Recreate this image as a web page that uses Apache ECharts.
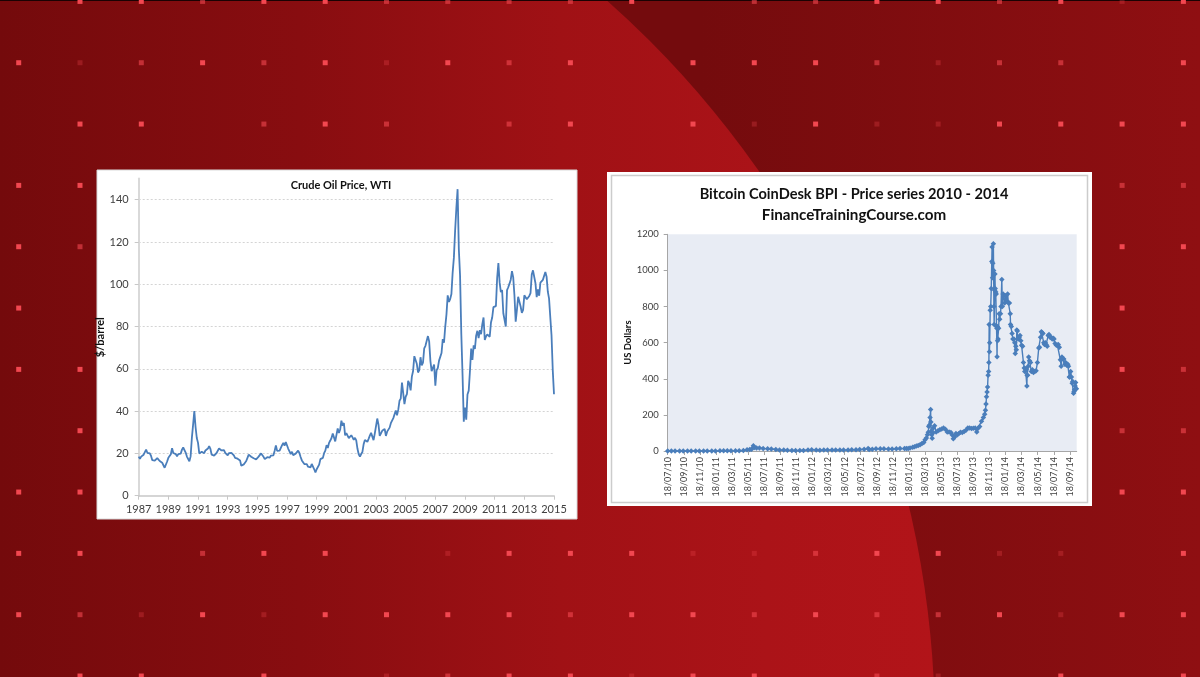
<!DOCTYPE html>
<html>
<head>
<meta charset="utf-8">
<script src="https://cdn.jsdelivr.net/npm/echarts@6.0.0/dist/echarts.min.js"></script>
<style>
  html, body { margin: 0; padding: 0; background: #7a0b0d; }
  #main { width: 1200px; height: 677px; }
</style>
</head>
<body>
<div id="main"></div>
<script>
// WTI crude, $/barrel, one reading per month from Jan 1987 (last = Jan 2015)
const oilStartYear = 1987;
const oilPrices = [
  18.5, 17.5, 18.5, 18.8, 19.4, 20.0, 21.8, 20.3, 19.6, 20.0, 18.8, 16.8, // 1987
  17.1, 16.6, 16.2, 17.8, 17.5, 16.4, 15.6, 15.6, 14.4, 13.2, 14.0, 16.2, // 1988
  17.9, 18.0, 19.6, 22.5, 20.2, 20.1, 19.7, 18.6, 19.7, 20.2, 19.9, 21.8, // 1989
  22.8, 22.3, 20.4, 18.5, 17.8, 16.3, 18.6, 27.2, 33.5, 40.0, 32.5, 27.3, // 1990
  25.0, 20.0, 19.8, 20.8, 21.2, 20.1, 21.4, 21.7, 22.3, 23.5, 22.2, 19.4, // 1991
  18.8, 19.0, 18.9, 20.2, 20.9, 22.4, 21.8, 21.4, 21.9, 21.6, 20.3, 19.4, // 1992
  19.1, 20.1, 20.3, 20.3, 19.9, 19.1, 17.9, 18.0, 17.5, 18.1, 16.7, 14.2, // 1993
  15.0, 14.8, 14.7, 16.4, 17.9, 19.4, 19.8, 18.4, 17.5, 17.7, 18.1, 17.2, // 1994
  18.0, 18.5, 18.6, 20.0, 19.7, 18.4, 17.3, 18.0, 18.2, 17.4, 18.0, 19.0, // 1995
  18.9, 19.1, 21.3, 23.8, 21.2, 20.4, 21.3, 21.9, 23.9, 25.0, 23.7, 25.4, // 1996
  25.8, 22.2, 21.0, 19.7, 20.8, 19.2, 19.6, 19.9, 19.8, 21.3, 20.2, 18.3, // 1997
  16.7, 16.1, 15.0, 15.4, 14.9, 13.7, 14.1, 13.4, 15.0, 14.4, 12.5, 11.0, // 1998
  12.5, 12.0, 14.7, 17.3, 17.8, 17.9, 20.1, 21.3, 23.9, 22.6, 25.0, 26.1, // 1999
  27.3, 29.4, 29.9, 25.7, 28.8, 31.8, 29.7, 31.3, 35.5, 33.1, 34.4, 28.5, // 2000
  29.6, 29.6, 27.2, 27.4, 28.6, 27.6, 26.4, 27.4, 26.2, 22.2, 19.6, 18.5, // 2001
  19.7, 20.7, 24.4, 26.3, 27.0, 25.5, 26.9, 28.4, 29.7, 28.9, 26.3, 29.4, // 2002
  32.9, 36.5, 33.6, 28.3, 28.1, 30.7, 30.8, 31.6, 28.3, 30.3, 31.1, 32.2, // 2003
  34.3, 34.7, 36.7, 36.7, 40.3, 38.0, 40.7, 44.9, 45.9, 53.5, 48.5, 43.3, // 2004
  46.8, 48.0, 54.3, 53.0, 49.8, 56.3, 59.0, 66.0, 65.6, 62.4, 58.3, 59.4, // 2005
  65.5, 61.6, 62.9, 69.7, 70.9, 71.0, 75.5, 73.0, 63.8, 58.9, 59.1, 62.0, // 2006
  52.0, 59.3, 60.4, 63.9, 63.5, 67.5, 74.1, 72.4, 79.9, 85.8, 94.8, 91.7, // 2007
  93.0, 95.4, 105.5, 112.6, 125.4, 136.0, 145.0, 116.7, 104.1, 76.6, 57.3, 35.0, // 2008
  41.7, 36.0, 47.9, 49.7, 59.0, 69.6, 64.2, 71.1, 69.4, 75.7, 78.0, 74.5, // 2009
  78.3, 76.4, 81.2, 84.3, 73.7, 75.3, 76.3, 76.6, 75.2, 81.9, 84.3, 89.2, // 2010
  89.6, 89.7, 102.9, 110.0, 100.9, 96.3, 97.3, 86.3, 85.5, 80.0, 97.2, 98.6, // 2011
  100.3, 102.2, 106.2, 103.3, 94.7, 82.3, 87.9, 94.1, 94.5, 89.5, 86.5, 87.9, // 2012
  94.8, 95.3, 92.9, 92.0, 94.5, 95.8, 104.6, 106.6, 106.3, 100.5, 93.9, 97.6, // 2013
  94.6, 100.8, 100.8, 102.1, 102.2, 105.8, 103.6, 96.5, 93.2, 84.4, 75.8, 59.3, // 2014
  48.0 // Jan 2015
];

// Bitcoin CoinDesk BPI, US dollars (dates and prices line up row by row)
const btcDates = [
  '2010-07-18','2010-08-01','2010-08-15','2010-09-01','2010-09-15','2010-10-01','2010-10-15','2010-11-01','2010-11-15','2010-12-01','2010-12-15',
  '2011-01-01','2011-01-15','2011-02-01','2011-02-15','2011-03-01','2011-03-15','2011-04-01','2011-04-15','2011-05-01','2011-05-15','2011-05-25',
  '2011-06-01','2011-06-08','2011-06-12','2011-06-20','2011-07-01','2011-07-15','2011-08-01','2011-08-15','2011-09-01','2011-09-15','2011-10-01',
  '2011-10-15','2011-11-01','2011-11-15','2011-12-01','2011-12-15',
  '2012-01-01','2012-01-15','2012-02-01','2012-02-15','2012-03-01','2012-03-15','2012-04-01','2012-04-15','2012-05-01','2012-05-15','2012-06-01',
  '2012-06-15','2012-07-01','2012-07-15','2012-08-01','2012-08-16','2012-08-20','2012-09-01','2012-09-15','2012-10-01','2012-10-15','2012-11-01',
  '2012-11-15','2012-12-01','2012-12-15',
  '2013-01-01','2013-01-08','2013-01-15','2013-01-22','2013-02-01','2013-02-08','2013-02-15','2013-02-22',
  '2013-03-01','2013-03-08','2013-03-15','2013-03-20','2013-03-25','2013-03-29',
  '2013-04-01','2013-04-03','2013-04-05','2013-04-08','2013-04-10','2013-04-11','2013-04-12','2013-04-14','2013-04-16','2013-04-18','2013-04-20','2013-04-25',
  '2013-05-01','2013-05-08','2013-05-15','2013-05-22','2013-05-29','2013-06-05','2013-06-12','2013-06-19','2013-06-26',
  '2013-07-01','2013-07-05','2013-07-10','2013-07-15','2013-07-20','2013-07-25','2013-08-01','2013-08-08','2013-08-15','2013-08-22','2013-08-29',
  '2013-09-05','2013-09-12','2013-09-19','2013-09-26','2013-10-02','2013-10-06','2013-10-13','2013-10-20','2013-10-27',
  '2013-11-01','2013-11-04','2013-11-06','2013-11-08','2013-11-10','2013-11-12','2013-11-14','2013-11-16','2013-11-17','2013-11-18','2013-11-19',
  '2013-11-20','2013-11-22','2013-11-24','2013-11-26','2013-11-28','2013-11-29',
  '2013-12-01','2013-12-02','2013-12-04','2013-12-05','2013-12-06','2013-12-07','2013-12-09','2013-12-10','2013-12-11','2013-12-13','2013-12-15',
  '2013-12-16','2013-12-17','2013-12-18','2013-12-19','2013-12-20','2013-12-22','2013-12-24','2013-12-26','2013-12-28','2013-12-31',
  '2014-01-02','2014-01-05','2014-01-07','2014-01-10','2014-01-13','2014-01-16','2014-01-20','2014-01-23','2014-01-27','2014-01-30',
  '2014-02-03','2014-02-06','2014-02-07','2014-02-10','2014-02-13','2014-02-16','2014-02-20','2014-02-23','2014-02-25','2014-02-27',
  '2014-03-01','2014-03-03','2014-03-05','2014-03-08','2014-03-12','2014-03-15','2014-03-18','2014-03-21','2014-03-25','2014-03-28','2014-03-31',
  '2014-04-02','2014-04-05','2014-04-08','2014-04-10','2014-04-11','2014-04-13','2014-04-15','2014-04-17','2014-04-20','2014-04-24','2014-04-27',
  '2014-05-01','2014-05-05','2014-05-10','2014-05-15','2014-05-20','2014-05-25','2014-05-28',
  '2014-06-01','2014-06-04','2014-06-07','2014-06-10','2014-06-13','2014-06-16','2014-06-19','2014-06-22','2014-06-26','2014-06-30',
  '2014-07-03','2014-07-07','2014-07-11','2014-07-15','2014-07-19','2014-07-22','2014-07-26','2014-07-31',
  '2014-08-04','2014-08-07','2014-08-11','2014-08-15','2014-08-18','2014-08-21','2014-08-25','2014-08-28',
  '2014-09-01','2014-09-04','2014-09-08','2014-09-12','2014-09-15','2014-09-18','2014-09-20','2014-09-23','2014-09-26','2014-09-29',
  '2014-10-01','2014-10-04','2014-10-06','2014-10-08','2014-10-10','2014-10-12','2014-10-15'
];
const btcPrices = [
  0.09, 0.07, 0.07, 0.06, 0.06, 0.06, 0.10, 0.20, 0.28, 0.21, 0.24,
  0.30, 0.40, 0.72, 1.0, 0.90, 0.86, 0.78, 1.1, 3.0, 7.0, 8.5,
  9.5, 29.6, 19, 17, 16, 14, 13, 11, 8, 5.3, 5.0,
  3.6, 3.2, 2.3, 3.0, 3.2,
  5.3, 6.8, 6.1, 4.4, 4.9, 5.3, 4.9, 4.9, 5.0, 5.0, 5.3,
  6.4, 6.7, 7.7, 9.4, 13.5, 8.5, 10.2, 11.8, 12.4, 11.8, 10.6,
  11.1, 12.6, 13.4,
  13.3, 13.8, 14.4, 16.9, 20.4, 23.5, 27.0, 29.9,
  34.5, 42, 47, 62, 72, 90,
  104, 135, 142, 186, 230, 160, 110, 90, 70, 100, 127, 140,
  105, 112, 117, 122, 128, 120, 105, 105, 102,
  88, 68, 78, 97, 90, 95, 104, 102, 108, 115, 128,
  128, 125, 126, 127, 105, 125, 135, 165, 185,
  203, 225, 260, 300, 327, 355, 420, 440, 490, 700, 550,
  600, 780, 800, 900, 1050, 1130,
  960, 1040, 1147, 1000, 800, 700, 890, 980, 900, 880, 870,
  690, 680, 522, 690, 610, 620, 680, 760, 730, 760,
  800, 950, 800, 870, 860, 820, 860, 830, 870, 820,
  820, 760, 700, 690, 650, 620, 620, 600, 540, 580,
  560, 670, 665, 620, 630, 640, 610, 585, 580, 490, 460,
  440, 455, 450, 360, 420, 420, 470, 520, 500, 490, 440,
  450, 435, 440, 445, 490, 570, 575,
  630, 660, 655, 650, 600, 590, 600, 590, 580, 640,
  645, 630, 630, 620, 625, 620, 595, 585,
  585, 590, 575, 505, 470, 520, 510, 510,
  480, 490, 475, 480, 470, 410, 410, 440, 410, 375,
  385, 320, 330, 340, 360, 380, 345
];
// x-axis tick labels, every two months from the first date
const btcTickLabels = [
  '18/07/10','18/09/10','18/11/10','18/01/11','18/03/11','18/05/11','18/07/11','18/09/11','18/11/11',
  '18/01/12','18/03/12','18/05/12','18/07/12','18/09/12','18/11/12','18/01/13','18/03/13','18/05/13',
  '18/07/13','18/09/13','18/11/13','18/01/14','18/03/14','18/05/14','18/07/14','18/09/14'
];

// background dot pattern, one string per row, 0 = none .. 3 = bright
const dotRows = [
  '03323322223022332313',
  '31232313230333212203',
  '03302320230313113333',
  '33000000000000000022',
  '32000000000000000033',
  '30000000000000000030',
  '33000000000000000032',
  '03000000000000000022',
  '33000000000000000033',
  '33023301333112331103',
  '32131333323323223133',
  '03303012331330210303'
];

const DAY = 86400000;
const btcStart = Date.UTC(2010, 6, 18);
function dayIndex(s) {
  const p = s.split('-');
  return Math.round((Date.UTC(+p[0], +p[1] - 1, +p[2]) - btcStart) / DAY);
}
const BTC_STEP = 61; // about two months in days

const oilData = oilPrices.map((v, i) => [i / 12, v]);
const btcData = btcDates.map((d, i) => [dayIndex(d), btcPrices[i]]);

const FONT = 'Lato, "Open Sans", sans-serif';
const LABEL = '#404040';
const BLUE = '#4a7ebb';

// decoration: background, dots, white boxes
const graphics = [
  { type: 'rect', z: -30, shape: { x: 0, y: 0, width: 1200, height: 677 },
    style: { fill: new echarts.graphic.LinearGradient(700, 0, 1200, 0,
      [{ offset: 0, color: '#740b0d' }, { offset: 1, color: '#8f0f12' }], true) } },
  { type: 'circle', z: -29, shape: { cx: -40, cy: 730, r: 975 },
    style: { fill: new echarts.graphic.LinearGradient(0, 0, 935, 0,
      [{ offset: 0, color: '#740a0c' }, { offset: 0.32, color: '#880d10' },
       { offset: 0.6, color: '#a01115' }, { offset: 0.82, color: '#ab1318' },
       { offset: 1, color: '#b21419' }], true) } },
  { type: 'rect', z: -28, shape: { x: 0, y: 0, width: 1200, height: 1 }, style: { fill: '#1a0203' } }
];
const dotAlpha = [0, 0.28, 0.6, 1];
dotRows.forEach((row, r) => {
  row.split('').forEach((c, k) => {
    if (c === '0') return;
    graphics.push({
      type: 'rect', z: -27,
      shape: { x: 18.7 + 61.3 * k - 2.5, y: 1.4 + 61.33 * r - 2.5, width: 5, height: 5 },
      style: { fill: '#f24750', opacity: dotAlpha[+c] }
    });
  });
});
graphics.push(
  { type: 'rect', z: -20, shape: { x: 97, y: 170, width: 480, height: 349 },
    style: { fill: '#ffffff', stroke: '#d9d9d9', lineWidth: 1 } },
  { type: 'rect', z: -20, shape: { x: 607, y: 172, width: 485, height: 334 },
    style: { fill: '#ffffff' } },
  { type: 'rect', z: -19, shape: { x: 611.5, y: 175.5, width: 476, height: 327 },
    style: { fill: 'none', stroke: '#cccccc', lineWidth: 1.5 } }
);

const option = {
  animation: false,
  textStyle: { fontFamily: FONT },
  graphic: { elements: graphics },
  title: [
    { text: 'Crude Oil Price, WTI', left: 336, top: 175, textAlign: 'center',
      textStyle: { fontSize: 11, fontWeight: 'bold', color: '#111', fontFamily: FONT } },
    { text: 'Bitcoin CoinDesk BPI - Price series 2010 - 2014', left: 849, top: 182, textAlign: 'center',
      textStyle: { fontSize: 14.6, fontWeight: 'bold', color: '#111', fontFamily: FONT } },
    { text: 'FinanceTrainingCourse.com', left: 849, top: 203, textAlign: 'center',
      textStyle: { fontSize: 15.2, fontWeight: 'bold', color: '#111', fontFamily: FONT } }
  ],
  grid: [
    { left: 138.7, top: 178.6, width: 415.3, height: 317.1 },
    { left: 667.7, top: 234.3, width: 409, height: 216.7, show: true,
      backgroundColor: '#e8ecf4', borderWidth: 0 }
  ],
  xAxis: [
    {
      gridIndex: 0, type: 'value', min: 0, max: 28, interval: 2,
      axisLine: { lineStyle: { color: '#c8c8c8', width: 1.5 } },
      axisTick: { show: true, length: 4, lineStyle: { color: '#c8c8c8' } },
      axisLabel: { color: LABEL, fontSize: 11, margin: 8, fontFamily: FONT,
        formatter: v => String(oilStartYear + v) },
      splitLine: { show: false }
    },
    {
      gridIndex: 1, type: 'value', min: 0, max: 1551, interval: BTC_STEP,
      axisLine: { lineStyle: { color: '#a6a6a6', width: 1 } },
      axisTick: { show: true, length: 4, lineStyle: { color: '#a6a6a6' } },
      axisLabel: { color: LABEL, fontSize: 9, margin: 6, rotate: 90, fontFamily: FONT,
        hideOverlap: false, showMaxLabel: false,
        formatter: v => (v % BTC_STEP === 0 ? (btcTickLabels[v / BTC_STEP] || '') : '') },
      splitLine: { show: false }
    }
  ],
  yAxis: [
    {
      gridIndex: 0, type: 'value', min: 0, max: 150, interval: 20,
      name: '$/barrel', nameLocation: 'middle', nameGap: 24, nameRotate: 90,
      nameTextStyle: { fontSize: 11, fontWeight: 'bold', color: '#111', fontFamily: FONT },
      axisLine: { show: true, lineStyle: { color: '#d9d9d9', width: 2 } },
      axisTick: { show: true, length: 4, lineStyle: { color: '#c8c8c8' } },
      axisLabel: { color: LABEL, fontSize: 11, margin: 10, fontFamily: FONT, showMaxLabel: false,
        formatter: v => (v <= 140 ? String(v) : '') },
      splitLine: { show: true, showMinLine: false, showMaxLine: false,
        lineStyle: { color: '#d4d4d4', type: [2, 2], width: 1 } }
    },
    {
      gridIndex: 1, type: 'value', min: 0, max: 1200, interval: 200,
      name: 'US Dollars', nameLocation: 'middle', nameGap: 31, nameRotate: 90,
      nameTextStyle: { fontSize: 9.5, fontWeight: 'bold', color: '#111', fontFamily: FONT },
      axisLine: { show: true, lineStyle: { color: '#a6a6a6', width: 1 } },
      axisTick: { show: true, length: 4, lineStyle: { color: '#a6a6a6' } },
      axisLabel: { color: LABEL, fontSize: 9.5, margin: 9, fontFamily: FONT,
        formatter: v => String(v) },
      splitLine: { show: false }
    }
  ],
  series: [
    {
      name: 'WTI', type: 'line', xAxisIndex: 0, yAxisIndex: 0, data: oilData,
      showSymbol: false, lineStyle: { color: BLUE, width: 1.8 }, z: 3
    },
    {
      name: 'BPI', type: 'line', xAxisIndex: 1, yAxisIndex: 1, data: btcData,
      symbol: 'diamond', symbolSize: 5.5, showAllSymbol: true,
      itemStyle: { color: BLUE }, lineStyle: { color: BLUE, width: 1.4 }, z: 3
    }
  ]
};

const chart = echarts.init(document.getElementById('main'));
chart.setOption(option);
</script>
</body>
</html>
